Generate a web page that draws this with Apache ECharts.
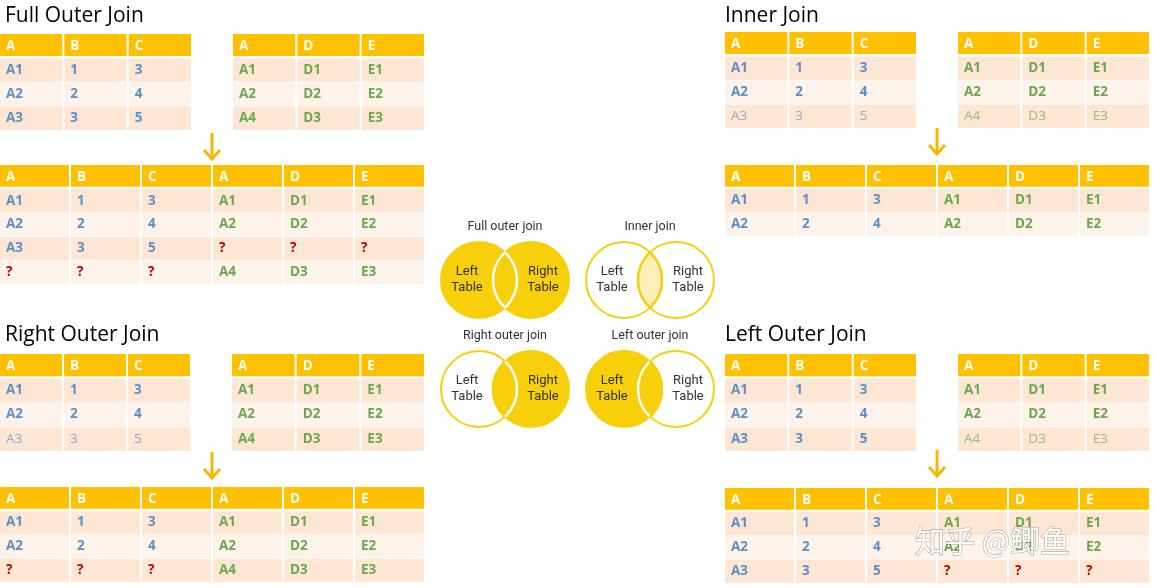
<!DOCTYPE html>
<html><head><meta charset="utf-8">
<script src="https://cdn.jsdelivr.net/npm/echarts@6/dist/echarts.min.js"></script>
<style>html,body{margin:0;padding:0;background:#fff}#c{width:1155px;height:588px}</style>
</head><body><div id="c"></div>
<script>
// ---- data ----
const leftHeader = ['A','B','C'];
const rightHeader = ['A','D','E'];
const joinHeader = ['A','B','C','A','D','E'];
const leftRows = [['A1','1','3'],['A2','2','4'],['A3','3','5']];
const rightRows = [['A1','D1','E1'],['A2','D2','E2'],['A4','D3','E3']];
const fullRows = [['A1','1','3','A1','D1','E1'],['A2','2','4','A2','D2','E2'],['A3','3','5','?','?','?'],['?','?','?','A4','D3','E3']];
const innerRows = [['A1','1','3','A1','D1','E1'],['A2','2','4','A2','D2','E2']];
const rightOuterRows = [['A1','1','3','A1','D1','E1'],['A2','2','4','A2','D2','E2'],['?','?','?','A4','D3','E3']];
const leftOuterRows = [['A1','1','3','A1','D1','E1'],['A2','2','4','A2','D2','E2'],['A3','3','5','?','?','?']];
const titles = ['Full Outer Join','Inner Join','Right Outer Join','Left Outer Join'];
const vennLabels = ['Full outer join','Inner join','Right outer join','Left outer join'];
const watermark = '知乎 @鲫鱼';

const BLUE='#5b8fc9', GREEN='#6aa84f', RED='#c00000', HEAD='#ffc000';
const ROW1='#fde6d3', ROW2='#fef3ea', YEL='#f7cf0a';

// table specs: [header, rows, left, top, width, height, colColors, fadedRowIdx]
const tables = [
  [leftHeader, leftRows, 0, 34, 193, 96, 'bbb', []],
  [rightHeader, rightRows, 233, 34, 193, 96, 'ggg', []],
  [joinHeader, fullRows, 0, 165, 426, 119, 'bbbggg', []],
  [leftHeader, leftRows, 725, 32, 193, 96, 'bbb', [2]],
  [rightHeader, rightRows, 958, 32, 193, 96, 'ggg', [2]],
  [joinHeader, innerRows, 725, 165, 426, 71, 'bbbggg', []],
  [leftHeader, leftRows, 0, 354, 192, 97, 'bbb', [2]],
  [rightHeader, rightRows, 232, 354, 194, 97, 'ggg', []],
  [joinHeader, rightOuterRows, 0, 487, 426, 95, 'bbbggg', []],
  [leftHeader, leftRows, 725, 354, 193, 97, 'bbb', []],
  [rightHeader, rightRows, 958, 354, 193, 97, 'ggg', [2]],
  [joinHeader, leftOuterRows, 725, 488, 426, 95, 'bbbggg', []]
];

const grid=[], xAxis=[], yAxis=[], series=[];
tables.forEach((t,i)=>{
  const [hdr, rows, l, tp, w, h, cc, faded] = t;
  grid.push({left:l, top:tp, width:w, height:h});
  xAxis.push({type:'category', gridIndex:i, data:hdr.map((_,k)=>String(k)), show:false, boundaryGap:true});
  yAxis.push({type:'category', gridIndex:i, data:[0].concat(rows.map((_,k)=>k+1)).map(String), inverse:true, show:false});
  const data=[];
  hdr.forEach((v,c)=>data.push([c,0,v,'h']));
  rows.forEach((r,ri)=>r.forEach((v,c)=>data.push([c,ri+1,v,faded.indexOf(ri)>=0?'f':'n'])));
  series.push({
    type:'custom', xAxisIndex:i, yAxisIndex:i, silent:true,
    data:data.map(d=>[d[0],d[1]]),
    renderItem:(params, api)=>{
      const c=api.value(0), r=api.value(1);
      const d=data[params.dataIndex];
      const pt=api.coord([c,r]); const sz=api.size([1,1]);
      const x=pt[0]-sz[0]/2, y=pt[1]-sz[1]/2;
      let fill = r===0?HEAD:(r%2===1?ROW1:ROW2);
      let col = d[3]==='h'?'#fff':(d[2]==='?'?RED:(cc[c]==='b'?BLUE:GREEN));
      const fadedRow=d[3]==='f';
      if(fadedRow) col = cc[c]==='b'?'#8aa9d0':'#93bd7d';
      return {type:'group', children:[
        {type:'rect', shape:{x:x, y:y+(r===0?0:0.5), width:sz[0]-2, height:sz[1]-(r===0?2:0.5)}, style:{fill:fill}},
        {type:'text', style:{text:d[2], x:x+6, y:pt[1], verticalAlign:'middle', fill:col,
          fontSize:13.5, fontWeight:fadedRow?'normal':'bold', fontFamily:'"Open Sans", sans-serif'}}
      ]};
    }
  });
});

const graphic=[];
const titlePos=[[5,16],[725,16],[5,335],[725,335]];
titles.forEach((t,i)=>graphic.push({type:'text', x:titlePos[i][0], y:titlePos[i][1],
  style:{text:t, fontSize:21, fontFamily:'"Open Sans", sans-serif', fill:'#000', verticalAlign:'middle'}}));
// arrows
[[212,133],[937,128],[212,452],[937,450]].forEach(a=>{
  graphic.push({type:'polyline', shape:{points:[[a[0],a[1]],[a[0],a[1]+26]]}, style:{stroke:'#f5b800', lineWidth:3}});
  graphic.push({type:'polyline', shape:{points:[[a[0]-8,a[1]+17],[a[0],a[1]+26],[a[0]+8,a[1]+17]]}, style:{stroke:'#f5b800', lineWidth:3, fill:null}});
});
// venns
const R=38, D=52, H=Math.sqrt(R*R-(D/2)*(D/2)), A=Math.atan2(H, D/2);
const venns=[[505,280,'full'],[650,280,'inner'],[505,389,'right'],[650,389,'left']];
venns.forEach((v,i)=>{
  const [cx,cy,m]=v; const x1=cx-D/2, x2=cx+D/2;
  graphic.push({type:'text', x:cx, y:cy-53, style:{text:vennLabels[i], fontSize:12.5, fontFamily:'Roboto, sans-serif', fill:'#333', align:'center', verticalAlign:'middle'}});
  const pts=[];
  for(let k=0;k<=30;k++){const t=-A+2*A*k/30; pts.push([x1+R*Math.cos(t), cy+R*Math.sin(t)]);}
  for(let k=0;k<=30;k++){const t=Math.PI-A+2*A*k/30; pts.push([x2+R*Math.cos(t), cy+R*Math.sin(t)]);}
  const fillL=(m==='full'||m==='left'), fillR=(m==='full'||m==='right');
  graphic.push({type:'circle', shape:{cx:x1,cy:cy,r:R}, style:{fill:fillL?YEL:'#fff', stroke:YEL, lineWidth:2}});
  graphic.push({type:'circle', shape:{cx:x2,cy:cy,r:R}, style:{fill:fillR?YEL:'none', stroke:YEL, lineWidth:2}});
  graphic.push({type:'polygon', shape:{points:pts}, style:{fill:m==='inner'?'#fcf0b8':YEL}});
  const leftBoundaryColor = (m==='inner'||m==='right')?YEL:'#fff';
  const rightBoundaryColor = (m==='inner'||m==='left')?YEL:'#fff';
  graphic.push({type:'arc', shape:{cx:x2,cy:cy,r:R,startAngle:Math.PI-A,endAngle:Math.PI+A,clockwise:true}, style:{stroke:leftBoundaryColor, lineWidth:2.5, fill:null}});
  graphic.push({type:'arc', shape:{cx:x1,cy:cy,r:R,startAngle:-A,endAngle:A,clockwise:true}, style:{stroke:rightBoundaryColor, lineWidth:2.5, fill:null}});
  graphic.push({type:'text', x:x1-12, y:cy, style:{text:'Left\nTable', fontSize:13, fontFamily:'Roboto, sans-serif', lineHeight:16, fill:'#333', align:'center', verticalAlign:'middle'}});
  graphic.push({type:'text', x:x2+12, y:cy, style:{text:'Right\nTable', fontSize:13, fontFamily:'Roboto, sans-serif', lineHeight:16, fill:'#333', align:'center', verticalAlign:'middle'}});
});
graphic.push({type:'text', x:915, y:541, z:100, style:{text:watermark, fontSize:30, fontFamily:'"Noto Sans CJK SC", sans-serif', fill:'#ffffff', stroke:'rgba(110,110,110,0.55)', lineWidth:1.2, verticalAlign:'middle'}});

const chart=echarts.init(document.getElementById('c'));
chart.setOption({animation:false, grid, xAxis, yAxis, series, graphic});
</script></body></html>
